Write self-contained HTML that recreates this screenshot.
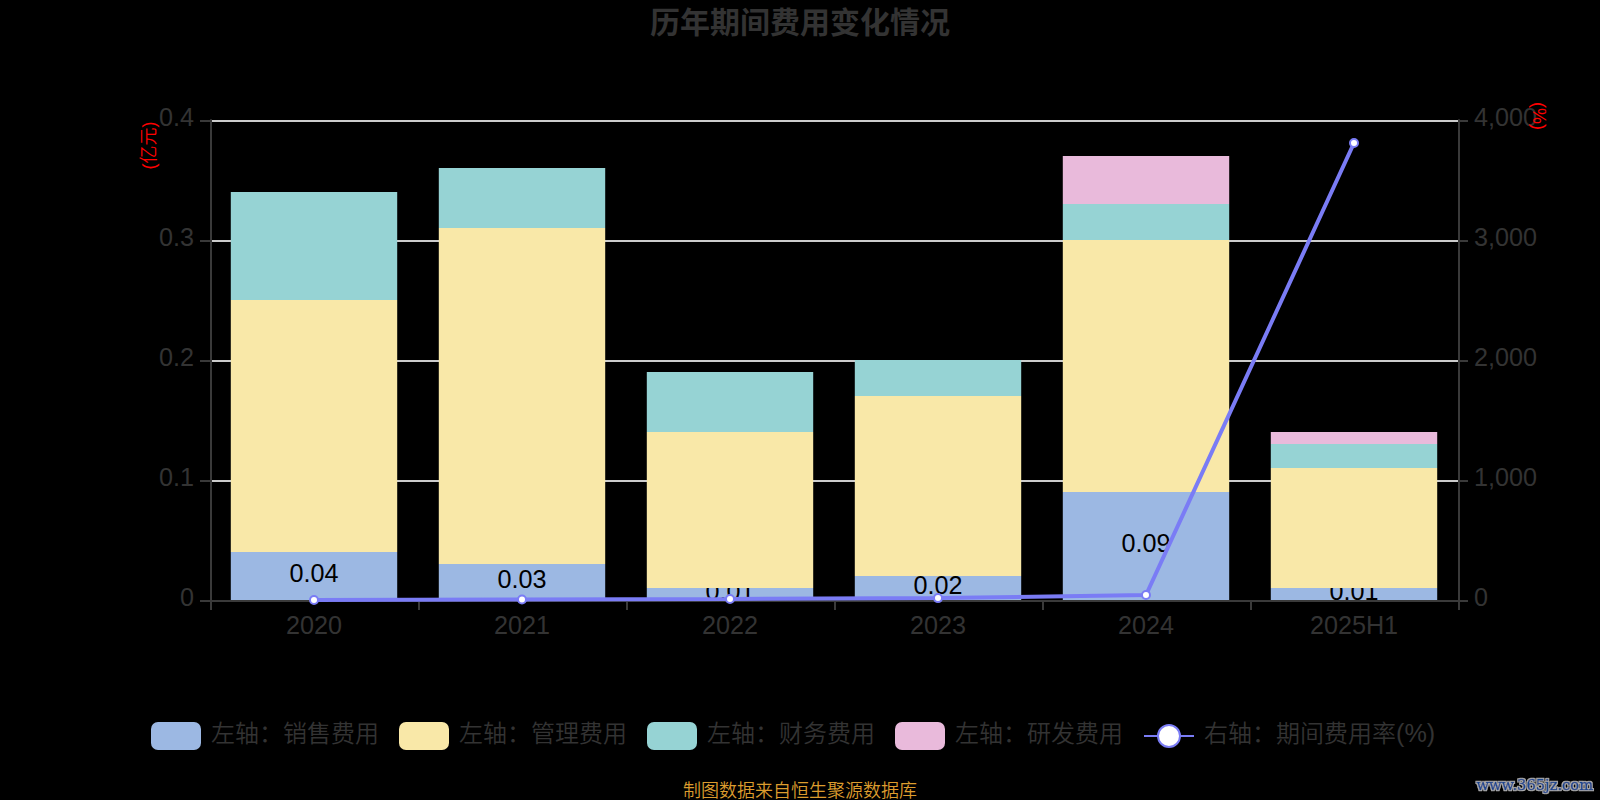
<!DOCTYPE html>
<html lang="zh-CN">
<head>
<meta charset="utf-8">
<title>历年期间费用变化情况</title>
<style>
html,body{margin:0;padding:0;background:#000;width:1600px;height:800px;overflow:hidden}
svg{display:block}
text{font-family:"Liberation Sans","Noto Sans CJK SC",sans-serif}
.lg{font-weight:350}
.wm{font-family:"DejaVu Serif","Liberation Serif",serif}
</style>
</head>
<body>
<svg width="1600" height="800" viewBox="0 0 1600 800">
<rect width="1600" height="800" fill="#000"/>
<text x="800" y="33.3" text-anchor="middle" font-size="30" font-weight="bold" fill="#333333">历年期间费用变化情况</text>
<rect x="210.0" y="120.0" width="1248.0" height="2" fill="#cccccc"/>
<rect x="210.0" y="240.0" width="1248.0" height="2" fill="#cccccc"/>
<rect x="210.0" y="360.0" width="1248.0" height="2" fill="#cccccc"/>
<rect x="210.0" y="480.0" width="1248.0" height="2" fill="#cccccc"/>
<rect x="210.0" y="119.3" width="2" height="482.7" fill="#3a3a3a"/>
<rect x="1458.0" y="119.3" width="2" height="482.7" fill="#3a3a3a"/>
<rect x="210.0" y="600.0" width="1250.0" height="2" fill="#3a3a3a"/>
<rect x="200.0" y="120.0" width="10" height="2" fill="#3a3a3a"/>
<rect x="1458.0" y="120.0" width="10" height="2" fill="#3a3a3a"/>
<rect x="200.0" y="240.0" width="10" height="2" fill="#3a3a3a"/>
<rect x="1458.0" y="240.0" width="10" height="2" fill="#3a3a3a"/>
<rect x="200.0" y="360.0" width="10" height="2" fill="#3a3a3a"/>
<rect x="1458.0" y="360.0" width="10" height="2" fill="#3a3a3a"/>
<rect x="200.0" y="480.0" width="10" height="2" fill="#3a3a3a"/>
<rect x="1458.0" y="480.0" width="10" height="2" fill="#3a3a3a"/>
<rect x="200.0" y="600.0" width="10" height="2" fill="#3a3a3a"/>
<rect x="1458.0" y="600.0" width="10" height="2" fill="#3a3a3a"/>
<rect x="210.0" y="600.0" width="2" height="10" fill="#3a3a3a"/>
<rect x="418.0" y="600.0" width="2" height="10" fill="#3a3a3a"/>
<rect x="626.0" y="600.0" width="2" height="10" fill="#3a3a3a"/>
<rect x="834.0" y="600.0" width="2" height="10" fill="#3a3a3a"/>
<rect x="1042.0" y="600.0" width="2" height="10" fill="#3a3a3a"/>
<rect x="1250.0" y="600.0" width="2" height="10" fill="#3a3a3a"/>
<rect x="1458.0" y="600.0" width="2" height="10" fill="#3a3a3a"/>
<rect x="230.8" y="552.0" width="166.4" height="48.0" fill="#9cb8e3"/>
<clipPath id="c0"><rect x="230.8" y="552.0" width="166.4" height="48.0"/></clipPath>
<text x="314.0" y="581.5" text-anchor="middle" font-size="25.2" fill="#000" clip-path="url(#c0)">0.04</text>
<rect x="230.8" y="300.0" width="166.4" height="252.0" fill="#f9e8a8"/>
<rect x="230.8" y="192.0" width="166.4" height="108.0" fill="#96d3d4"/>
<rect x="438.8" y="564.0" width="166.4" height="36.0" fill="#9cb8e3"/>
<clipPath id="c1"><rect x="438.8" y="564.0" width="166.4" height="36.0"/></clipPath>
<text x="522.0" y="587.5" text-anchor="middle" font-size="25.2" fill="#000" clip-path="url(#c1)">0.03</text>
<rect x="438.8" y="228.0" width="166.4" height="336.0" fill="#f9e8a8"/>
<rect x="438.8" y="168.0" width="166.4" height="60.0" fill="#96d3d4"/>
<rect x="646.8" y="588.0" width="166.4" height="12.0" fill="#9cb8e3"/>
<clipPath id="c2"><rect x="646.8" y="588.0" width="166.4" height="12.0"/></clipPath>
<text x="730.0" y="599.5" text-anchor="middle" font-size="25.2" fill="#000" clip-path="url(#c2)">0.01</text>
<rect x="646.8" y="432.0" width="166.4" height="156.0" fill="#f9e8a8"/>
<rect x="646.8" y="372.0" width="166.4" height="60.0" fill="#96d3d4"/>
<rect x="854.8" y="576.0" width="166.4" height="24.0" fill="#9cb8e3"/>
<clipPath id="c3"><rect x="854.8" y="576.0" width="166.4" height="24.0"/></clipPath>
<text x="938.0" y="593.5" text-anchor="middle" font-size="25.2" fill="#000" clip-path="url(#c3)">0.02</text>
<rect x="854.8" y="396.0" width="166.4" height="180.0" fill="#f9e8a8"/>
<rect x="854.8" y="360.0" width="166.4" height="36.0" fill="#96d3d4"/>
<rect x="1062.8" y="492.0" width="166.4" height="108.0" fill="#9cb8e3"/>
<clipPath id="c4"><rect x="1062.8" y="492.0" width="166.4" height="108.0"/></clipPath>
<text x="1146.0" y="551.5" text-anchor="middle" font-size="25.2" fill="#000" clip-path="url(#c4)">0.09</text>
<rect x="1062.8" y="240.0" width="166.4" height="252.0" fill="#f9e8a8"/>
<rect x="1062.8" y="204.0" width="166.4" height="36.0" fill="#96d3d4"/>
<rect x="1062.8" y="156.0" width="166.4" height="48.0" fill="#e9badb"/>
<rect x="1270.8" y="588.0" width="166.4" height="12.0" fill="#9cb8e3"/>
<clipPath id="c5"><rect x="1270.8" y="588.0" width="166.4" height="12.0"/></clipPath>
<text x="1354.0" y="599.5" text-anchor="middle" font-size="25.2" fill="#000" clip-path="url(#c5)">0.01</text>
<rect x="1270.8" y="468.0" width="166.4" height="120.0" fill="#f9e8a8"/>
<rect x="1270.8" y="444.0" width="166.4" height="24.0" fill="#96d3d4"/>
<rect x="1270.8" y="432.0" width="166.4" height="12.0" fill="#e9badb"/>
<text x="194" y="126.0" text-anchor="end" font-size="25.2" fill="#333333">0.4</text>
<text x="1474" y="126.0" text-anchor="start" font-size="25.2" fill="#333333">4,000</text>
<text x="194" y="246.0" text-anchor="end" font-size="25.2" fill="#333333">0.3</text>
<text x="1474" y="246.0" text-anchor="start" font-size="25.2" fill="#333333">3,000</text>
<text x="194" y="366.0" text-anchor="end" font-size="25.2" fill="#333333">0.2</text>
<text x="1474" y="366.0" text-anchor="start" font-size="25.2" fill="#333333">2,000</text>
<text x="194" y="486.0" text-anchor="end" font-size="25.2" fill="#333333">0.1</text>
<text x="1474" y="486.0" text-anchor="start" font-size="25.2" fill="#333333">1,000</text>
<text x="194" y="606.0" text-anchor="end" font-size="25.2" fill="#333333">0</text>
<text x="1474" y="606.0" text-anchor="start" font-size="25.2" fill="#333333">0</text>
<text x="314.0" y="634" text-anchor="middle" font-size="25.2" fill="#333333">2020</text>
<text x="522.0" y="634" text-anchor="middle" font-size="25.2" fill="#333333">2021</text>
<text x="730.0" y="634" text-anchor="middle" font-size="25.2" fill="#333333">2022</text>
<text x="938.0" y="634" text-anchor="middle" font-size="25.2" fill="#333333">2023</text>
<text x="1146.0" y="634" text-anchor="middle" font-size="25.2" fill="#333333">2024</text>
<text x="1354.0" y="634" text-anchor="middle" font-size="25.2" fill="#333333">2025H1</text>
<text transform="translate(155,145.6) rotate(-90)" class="lg" text-anchor="middle" font-size="18" fill="#f00">(亿元)</text>
<text transform="translate(1533,116) rotate(90)" text-anchor="middle" font-size="18" fill="#f00">(%)</text>
<polyline points="314.0,600 522.0,599.5 730.0,599 938.0,598.1 1146.0,595 1354.0,143" fill="none" stroke="#7a7cf5" stroke-width="4" stroke-linejoin="bevel"/>
<circle cx="314.0" cy="600" r="4" fill="#fff" stroke="#7a7cf5" stroke-width="2"/>
<circle cx="522.0" cy="599.5" r="4" fill="#fff" stroke="#7a7cf5" stroke-width="2"/>
<circle cx="730.0" cy="599" r="4" fill="#fff" stroke="#7a7cf5" stroke-width="2"/>
<circle cx="938.0" cy="598.1" r="4" fill="#fff" stroke="#7a7cf5" stroke-width="2"/>
<circle cx="1146.0" cy="595" r="4" fill="#fff" stroke="#7a7cf5" stroke-width="2"/>
<circle cx="1354.0" cy="143" r="4" fill="#fff" stroke="#7a7cf5" stroke-width="2"/>
<rect x="151" y="722" width="50" height="28" rx="7" ry="7" fill="#9cb8e3"/>
<text class="lg" x="211" y="742" font-size="24" fill="#333333">左轴：销售费用</text>
<rect x="399" y="722" width="50" height="28" rx="7" ry="7" fill="#f9e8a8"/>
<text class="lg" x="459" y="742" font-size="24" fill="#333333">左轴：管理费用</text>
<rect x="647" y="722" width="50" height="28" rx="7" ry="7" fill="#96d3d4"/>
<text class="lg" x="707" y="742" font-size="24" fill="#333333">左轴：财务费用</text>
<rect x="895" y="722" width="50" height="28" rx="7" ry="7" fill="#e9badb"/>
<text class="lg" x="955" y="742" font-size="24" fill="#333333">左轴：研发费用</text>
<rect x="1144" y="735" width="50" height="2" fill="#7a7cf5"/>
<circle cx="1169" cy="736" r="11" fill="#fff" stroke="#7a7cf5" stroke-width="2"/>
<text class="lg" x="1204" y="742" font-size="24" fill="#333333">右轴：期间费用率<tspan font-size="25.2">(%)</tspan></text>
<text class="lg" x="800" y="796.5" text-anchor="middle" font-size="18" fill="#dc9c2e">制图数据来自恒生聚源数据库</text>
<defs><filter id="wmf" x="-5%" y="-30%" width="110%" height="160%"><feMorphology in="SourceAlpha" operator="dilate" radius="1.25" result="d"/><feGaussianBlur in="d" stdDeviation="0.35" result="b"/><feFlood flood-color="#adadad"/><feComposite in2="b" operator="in" result="o"/><feMerge><feMergeNode in="o"/><feMergeNode in="SourceGraphic"/></feMerge></filter></defs>
<text class="wm" x="1534.75" y="790" text-anchor="middle" font-size="14.7" fill="#19468f" stroke="#19468f" stroke-width="0.5" filter="url(#wmf)">www.365jz.com</text>
</svg>
</body>
</html>
